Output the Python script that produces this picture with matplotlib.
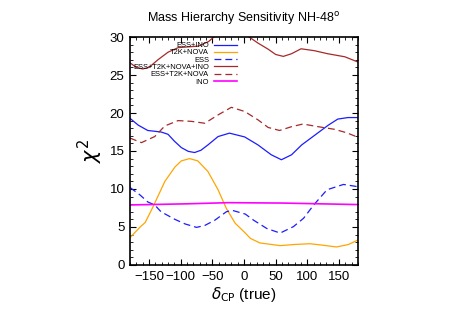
import numpy as np
import matplotlib
matplotlib.use('Agg')
import matplotlib.pyplot as plt
from matplotlib.ticker import MultipleLocator

plt.rcParams['font.family'] = ['Liberation Sans', 'DejaVu Sans']

# ESS+T2K+NOVA+INO (solid brown), goes off the top between -45 and 10
x_all = [-180, -170, -160, -150, -136, -120, -104, -88, -72, -56, -45, -30,
         -15, 0, 8, 22, 38, 50, 62, 75, 90, 111, 132, 159, 180]
y_all = [26.6, 26.0, 25.8, 26.0, 27.0, 28.0, 28.6, 28.7, 28.8, 29.4, 30.2,
         31.0, 31.3, 30.8, 30.0, 29.2, 28.4, 27.7, 27.45, 27.8, 28.45, 28.2,
         27.8, 27.4, 26.7]

# ESS+T2K+NOVA (dashed brown)
x_ess_t2k = [-180, -162, -141, -125, -104, -83, -62, -41, -20, 1, 22, 38, 56,
             75, 93, 117, 143, 162, 180]
y_ess_t2k = [16.7, 16.1, 16.9, 18.3, 19.0, 18.9, 18.65, 19.75, 20.75, 20.2,
             19.1, 18.1, 17.7, 18.2, 18.55, 18.2, 17.85, 17.4, 16.8]

# ESS+INO (solid blue)
x_ess_ino = [-180, -167, -152, -131, -120, -110, -99, -88, -78, -68, -57, -41,
             -23, 1, 22, 43, 59, 75, 91, 112, 133, 148, 164, 180]
y_ess_ino = [19.3, 18.4, 17.7, 17.5, 17.2, 16.3, 15.45, 14.95, 14.8, 15.1,
             15.8, 16.9, 17.35, 16.85, 15.8, 14.5, 13.85, 14.5, 15.8, 17.1,
             18.4, 19.2, 19.4, 19.4]

# ESS (dashed blue)
x_ess = [-180, -164, -152, -141, -131, -109, -93, -75, -62, -46, -28, -19, 2,
         15, 36, 57, 78, 94, 110, 131, 157, 180]
y_ess = [10.2, 9.2, 8.3, 7.9, 7.0, 6.0, 5.4, 4.95, 5.2, 5.9, 7.0, 7.2, 6.7,
         5.9, 4.8, 4.2, 5.05, 6.15, 7.9, 9.9, 10.6, 10.3]

# T2K+NOVA (orange)
x_t2k = [-180, -172, -164, -156, -144, -125, -109, -99, -86, -73, -57, -41,
         -28, -14, 2, 10, 25, 57, 80, 104, 125, 146, 165, 180]
y_t2k = [3.6, 4.3, 5.0, 5.6, 7.6, 11.0, 12.9, 13.7, 14.0, 13.7, 12.3, 9.9,
         7.45, 5.5, 4.2, 3.5, 2.9, 2.55, 2.7, 2.8, 2.6, 2.37, 2.7, 3.3]

# INO (magenta)
x_ino = [-180, -90, -25, 60, 120, 180]
y_ino = [7.9, 8.05, 8.2, 8.15, 8.05, 7.95]

fig = plt.figure(figsize=(4.57, 3.19), dpi=100)
ax = fig.add_axes([0.2845, 0.1693, 0.499, 0.7147])

lw = 0.9
ax.plot(x_ess_ino, y_ess_ino, color='#1c1cff', lw=lw, label='ESS+INO')
ax.plot(x_t2k, y_t2k, color='#ffa500', lw=lw, label='T2K+NOVA')
ax.plot(x_ess, y_ess, color='#1c1cff', lw=lw, dashes=(5.5, 3.2), label='ESS')
ax.plot(x_all, y_all, color='#a52a2a', lw=lw, label='ESS+T2K+NOVA+INO')
ax.plot(x_ess_t2k, y_ess_t2k, color='#a52a2a', lw=lw, dashes=(5.5, 3.2),
        label='ESS+T2K+NOVA')
ax.plot(x_ino, y_ino, color='#ff00ff', lw=1.2, label='INO')

ax.set_xlim(-180, 180)
ax.set_ylim(0, 30)
ax.xaxis.set_major_locator(MultipleLocator(50))
ax.xaxis.set_minor_locator(MultipleLocator(10))
ax.yaxis.set_major_locator(MultipleLocator(5))
ax.yaxis.set_minor_locator(MultipleLocator(1))
ax.tick_params(which='both', direction='in', top=True, right=True,
               labelsize=9.5, pad=4)
ax.tick_params(which='major', length=4, width=0.8)
ax.tick_params(which='minor', length=2, width=0.6)
for sp in ax.spines.values():
    sp.set_linewidth(1.2)

ax.set_title(r'Mass Hierarchy Sensitivity NH-48$^{\rm o}$', fontsize=9,
             pad=11)
ax.set_xlabel(r'$\delta_{\rm CP}$ (true)', fontsize=11, labelpad=2)
ax.set_ylabel(r'$\chi^2$', fontsize=15, labelpad=3)

leg = ax.legend(loc='upper right', bbox_to_anchor=(237 / 457, 1 - 42 / 319),
                bbox_transform=fig.transFigure, frameon=False, fontsize=5.4,
                markerfirst=False, handlelength=3.1, handletextpad=0.65,
                labelspacing=0.0, borderpad=0, borderaxespad=0)
for t in leg.get_texts():
    t.set_ha('right')

fig.savefig('out.png', dpi=100)
